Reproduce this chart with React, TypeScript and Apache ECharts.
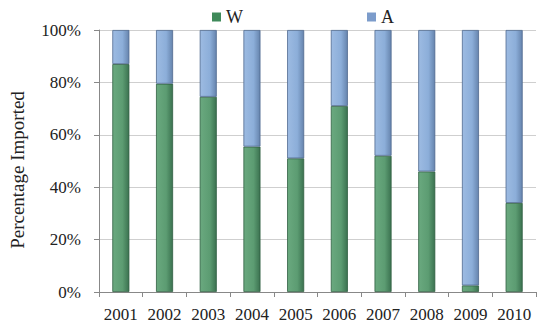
import React, { useEffect, useRef } from "react";
import * as echarts from "echarts";

const years = ["2001", "2002", "2003", "2004", "2005", "2006", "2007", "2008", "2009", "2010"];
const wShare = [87, 79.5, 74.5, 55.5, 51, 71, 52, 46, 2.5, 34];
const aShare = [13, 20.5, 25.5, 44.5, 49, 29, 48, 54, 97.5, 66];
const yTicks = [0, 20, 40, 60, 80, 100];

const FONT = "Liberation Serif";

export default function App() {
  const ref = useRef<HTMLDivElement>(null);
  useEffect(() => {
    document.body.style.margin = "0";
    if (!ref.current) return;
    const chart = echarts.init(ref.current, null, { renderer: "svg" });
    const green = new echarts.graphic.LinearGradient(0, 0, 1, 0, [
      { offset: 0, color: "#6aa97f" },
      { offset: 0.6, color: "#5c9c72" },
      { offset: 1, color: "#3b7250" },
    ]);
    const blue = new echarts.graphic.LinearGradient(0, 0, 1, 0, [
      { offset: 0, color: "#9dbbe2" },
      { offset: 0.6, color: "#8caed9" },
      { offset: 1, color: "#6684ad" },
    ]);
    chart.setOption({
      animation: false,
      legend: {
        top: 3,
        left: 207,
        itemGap: 124,
        itemWidth: 9,
        itemHeight: 9,
        icon: "rect",
        textStyle: { fontFamily: FONT, fontSize: 18, color: "#222" },
        data: [
          { name: "W", itemStyle: { color: "#3f8a5a", borderWidth: 0 } },
          { name: "A", itemStyle: { color: "#7c9ccb", borderWidth: 0 } },
        ],
      },
      grid: { left: 96, right: 3, top: 30, bottom: 38, containLabel: false },
      xAxis: {
        type: "category",
        data: years,
        axisLine: { lineStyle: { color: "#888", width: 1 } },
        axisTick: { show: true, length: 5, lineStyle: { color: "#888" } },
        axisLabel: { fontFamily: FONT, fontSize: 17, color: "#222", margin: 14, interval: 0 },
      },
      yAxis: {
        type: "value",
        min: 0,
        max: 100,
        interval: 20,
        name: "Percentage Imported",
        nameLocation: "middle",
        nameGap: 72,
        nameRotate: 90,
        nameTextStyle: { fontFamily: FONT, fontSize: 19, color: "#222", padding: [0, 18, 0, 0] },
        axisLine: { show: true, lineStyle: { color: "#888" } },
        axisTick: { show: true, length: 5, lineStyle: { color: "#888" } },
        axisLabel: {
          fontFamily: FONT,
          fontSize: 17,
          color: "#222",
          margin: 18,
          formatter: (v: number) => (yTicks.includes(v) ? v + "%" : ""),
        },
        splitLine: { lineStyle: { color: "#cfcfcf" } },
      },
      series: [
        {
          name: "W",
          type: "bar",
          stack: "t",
          barWidth: "39%",
          data: wShare,
          itemStyle: { color: green, borderColor: "#2f5e40", borderWidth: 0.8 },
        },
        {
          name: "A",
          type: "bar",
          stack: "t",
          barWidth: "39%",
          data: aShare,
          itemStyle: { color: blue, borderColor: "#4f6a8f", borderWidth: 0.8 },
        },
      ],
    });
    return () => chart.dispose();
  }, []);
  return <div ref={ref} style={{ width: 539, height: 330 }} />;
}
